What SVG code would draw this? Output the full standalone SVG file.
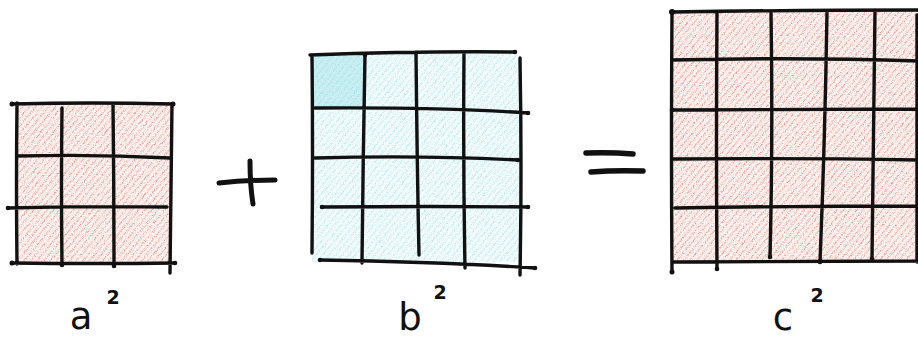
<svg xmlns="http://www.w3.org/2000/svg" width="918" height="340" viewBox="0 0 918 340">
<defs>
<pattern id="hatchRed" patternUnits="userSpaceOnUse" width="5" height="5" patternTransform="rotate(-50)">
<rect width="5" height="5" fill="#f9dcd6"/>
<line x1="0" y1="1" x2="5" y2="1" stroke="#dd4a3a" stroke-width="1.5" stroke-opacity="0.6"/>
</pattern>
<pattern id="hatchCyan" patternUnits="userSpaceOnUse" width="5" height="5" patternTransform="rotate(-50)">
<rect width="5" height="5" fill="#e2f6f8"/>
<line x1="0" y1="1" x2="5" y2="1" stroke="#55c8d6" stroke-width="1.4" stroke-opacity="0.45"/>
</pattern>
<filter id="grain" x="0" y="0" width="100%" height="100%">
<feTurbulence type="fractalNoise" baseFrequency="0.9" numOctaves="2" seed="3" result="n"/>
<feColorMatrix in="n" type="matrix" values="0 0 0 0 1  0 0 0 0 1  0 0 0 0 1  0 0 0 -2.2 1.6" result="m"/>
<feComposite in="m" in2="SourceGraphic" operator="in" result="w"/>
<feMerge><feMergeNode in="SourceGraphic"/><feMergeNode in="w"/></feMerge>
</filter>
</defs>
<style>
.ink{fill:none;stroke:#111;stroke-width:3.4;stroke-linecap:round;stroke-linejoin:round}
.dot{fill:#111}
.lbl{font-family:"DejaVu Sans","Liberation Sans",sans-serif;fill:#111}
.big{font-size:37px}
.sup{font-size:19px;font-weight:bold}
</style>
<rect width="918" height="340" fill="#ffffff"/>

<g id="square-a">
<rect x="17" y="104" width="155" height="159" fill="url(#hatchRed)" filter="url(#grain)"/>
<path class="ink" d="M12 104 Q90 102 173 104 M17 156 Q95 154 170 158 M8 208 Q90 206 167 207 M12 263 Q95 264 175 263 M17 103 Q16 185 17 264 M62 108 Q61 185 62 265 M113 104 Q114 185 114 266 M172 104 Q171 190 170 273"/>
<circle class="dot" cx="12" cy="104" r="2.5"/><circle class="dot" cx="173" cy="104" r="2.5"/><circle class="dot" cx="8" cy="208" r="2.3"/><circle class="dot" cx="12" cy="263" r="2.5"/><circle class="dot" cx="62" cy="265" r="2.3"/><circle class="dot" cx="114" cy="266" r="2.3"/><circle class="dot" cx="175" cy="263" r="2.3"/>
<text class="lbl big" x="81" y="329" text-anchor="middle">a</text>
<text class="lbl sup" x="113" y="304" text-anchor="middle">2</text>
</g>

<g id="plus">
<path class="ink" style="stroke-width:5" d="M219 183 Q245 180 275 180 M250 161 Q250 185 253 204"/>
</g>

<g id="square-b">
<rect x="312" y="54" width="208" height="208" fill="url(#hatchCyan)" filter="url(#grain)"/>
<rect x="313" y="56" width="51" height="51" fill="#7fd6e0" fill-opacity="0.35"/>
<path class="ink" d="M310 55 Q420 51 515 52 M315 108 Q440 107 528 113 M315 158 Q420 155 518 160 M322 207 Q430 206 528 207 M320 260 Q440 262 535 268 M312 55 Q313 150 312 253 M365 55 Q363 160 362 263 M416 52 Q417 160 419 255 M464 52 Q463 160 465 268 M520 58 Q522 170 520 275"/>
<circle class="dot" cx="515" cy="52" r="2.3"/><circle class="dot" cx="528" cy="113" r="2.3"/><circle class="dot" cx="518" cy="160" r="2.3"/><circle class="dot" cx="528" cy="207" r="2.3"/><circle class="dot" cx="320" cy="260" r="2.3"/><circle class="dot" cx="535" cy="268" r="2.3"/><circle class="dot" cx="322" cy="207" r="2.3"/><circle class="dot" cx="365" cy="55" r="2.3"/>
<text class="lbl big" x="410" y="330" text-anchor="middle">b</text>
<text class="lbl sup" x="440" y="299" text-anchor="middle">2</text>
</g>

<g id="equals">
<path class="ink" style="stroke-width:5.5" d="M586 153 Q610 152 633 154 M591 172 Q615 170 643 171"/>
</g>

<g id="square-c">
<rect x="672" y="11" width="246" height="251" fill="url(#hatchRed)" filter="url(#grain)"/>
<path class="ink" d="M672 12 Q800 10 918 10 M672 60 Q800 57 918 61 M672 110 Q800 109 918 109 M672 159 Q800 158 918 160 M675 208 Q800 206 918 206 M672 262 Q800 261 918 261 M672 12 Q671 150 672 272 M717 12 Q716 140 717 269 M771 12 Q773 140 770 257 M827 12 Q825 140 820 262 M875 10 Q873 140 872 259 M917 15 L917 262"/>
<circle class="dot" cx="672" cy="12" r="3"/><circle class="dot" cx="672" cy="272" r="2.5"/><circle class="dot" cx="717" cy="269" r="2.3"/><circle class="dot" cx="770" cy="257" r="2.3"/><circle class="dot" cx="820" cy="262" r="2.3"/><circle class="dot" cx="872" cy="259" r="2.3"/><circle class="dot" cx="672" cy="110" r="2.3"/>
<text class="lbl big" x="783" y="330" text-anchor="middle">c</text>
<text class="lbl sup" x="817" y="302" text-anchor="middle">2</text>
</g>
</svg>
